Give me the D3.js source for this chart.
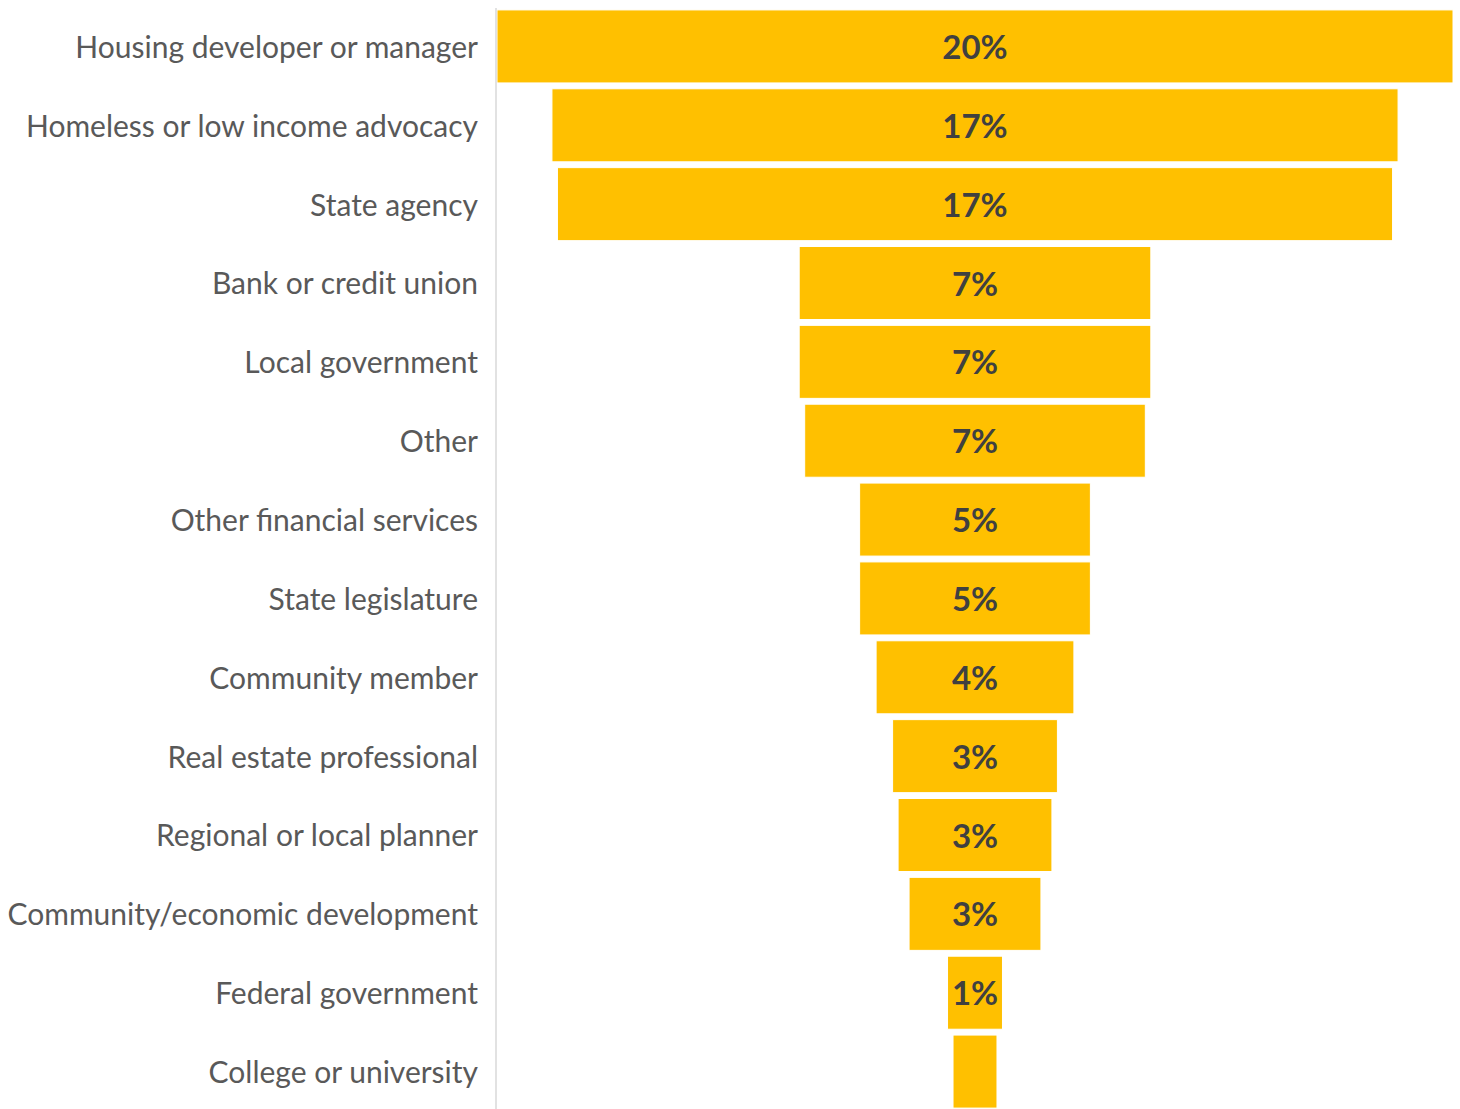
<!DOCTYPE html>
<html>
<head>
<meta charset="utf-8">
<script src="https://cdn.jsdelivr.net/npm/d3@7"></script>
<style>
  body { margin: 0; background: #fff; }
  svg { display: block; }
  .cat { font-family: Lato, "Open Sans", sans-serif; font-size: 30px; fill: #595959; }
  .val { font-family: Lato, "Open Sans", sans-serif; font-size: 33px; font-weight: bold; fill: #404040; }
</style>
</head>
<body>
<div id="chart"></div>
<script>
// categories, top to bottom
var categories = [
  'Housing developer or manager',
  'Homeless or low income advocacy',
  'State agency',
  'Bank or credit union',
  'Local government',
  'Other',
  'Other financial services',
  'State legislature',
  'Community member',
  'Real estate professional',
  'Regional or local planner',
  'Community/economic development',
  'Federal government',
  'College or university'
];

// respondent counts
var counts = [87, 77, 76, 32, 32, 31, 21, 21, 18, 15, 14, 12, 5, 4];

// data labels as shown (last bar has none)
var labels = ['20%', '17%', '17%', '7%', '7%', '7%', '5%', '5%', '4%', '3%', '3%', '3%', '1%', ''];

var W = 1460, H = 1109;
var axisX = 496;
var plotLeft = 497, plotRight = 1453;
var centerX = (plotLeft + plotRight) / 2;

var svg = d3.select('#chart').append('svg')
  .attr('width', W)
  .attr('height', H);

var y = d3.scaleBand()
  .domain(categories)
  .range([7, 1111])
  .paddingInner(0.074)
  .paddingOuter(0.037);

// width scale: max value spans whole plot
var w = d3.scaleLinear()
  .domain([0, d3.max(counts)])
  .range([0, plotRight - plotLeft]);

var data = categories.map(function(c, i) {
  return { cat: c, n: counts[i], label: labels[i] };
});

svg.selectAll('rect.bar')
  .data(data)
  .enter()
  .append('rect')
  .attr('class', 'bar')
  .attr('x', function(d) { return centerX - w(d.n) / 2; })
  .attr('y', function(d) { return y(d.cat); })
  .attr('width', function(d) { return w(d.n); })
  .attr('height', y.bandwidth())
  .attr('fill', '#FFC000')
  .attr('stroke', '#ffffff')
  .attr('stroke-width', 1);

svg.selectAll('text.val')
  .data(data)
  .enter()
  .append('text')
  .attr('class', 'val')
  .attr('x', centerX)
  .attr('y', function(d) { return y(d.cat) + y.bandwidth() / 2; })
  .attr('dy', '0.38em')
  .attr('text-anchor', 'middle')
  .text(function(d) { return d.label; });

// category axis on the left
var axis = d3.axisLeft(y).tickSize(0).tickPadding(18);
var g = svg.append('g')
  .attr('transform', 'translate(' + axisX + ',0)')
  .call(axis);
g.select('.domain').remove();
g.selectAll('text')
  .attr('class', 'cat')
  .attr('font-family', null)
  .attr('font-size', null)
  .attr('fill', null)
  .attr('dy', '0.38em');

svg.append('line')
  .attr('x1', axisX).attr('x2', axisX)
  .attr('y1', 8).attr('y2', 1109)
  .attr('stroke', '#d9d9d9')
  .attr('stroke-width', 1.5);
</script>
</body>
</html>
